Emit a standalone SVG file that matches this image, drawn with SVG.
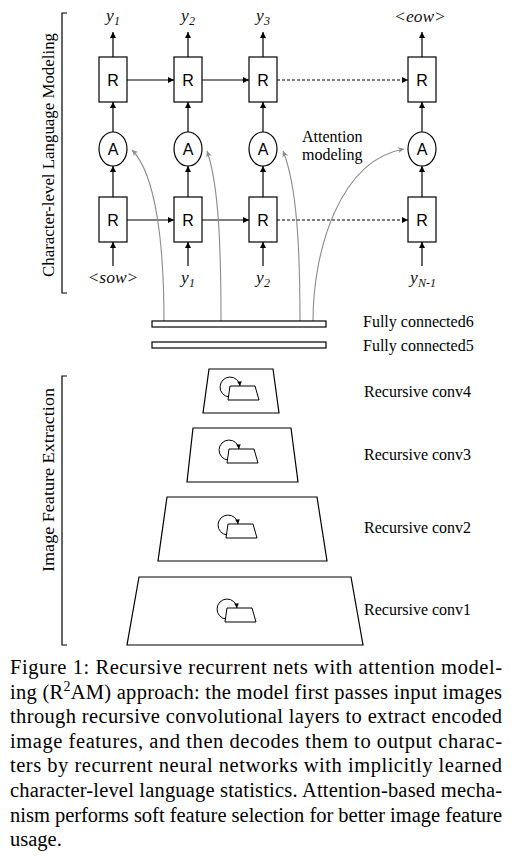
<svg xmlns="http://www.w3.org/2000/svg" width="515" height="857" viewBox="0 0 515 857">
<defs>
<style>
.box{fill:#fff;stroke:#000;stroke-width:1.2}
.ln{fill:none;stroke:#000;stroke-width:1.2}
.dash{fill:none;stroke:#000;stroke-width:1.2;stroke-dasharray:3,2}
.gray{fill:none;stroke:#8c8c8c;stroke-width:1.1}
.sans{font-family:"Liberation Sans",Arial,sans-serif;font-size:16px;fill:#000}
.it{font-family:"Liberation Serif","Times New Roman",serif;font-style:italic;font-size:17.5px;fill:#111}
.sub{font-size:12px}
.lbl{font-family:"Liberation Serif","Times New Roman",serif;font-size:16px;fill:#000}
.cap{font-family:"Liberation Serif","Times New Roman",serif;font-size:20.5px;fill:#000}
.side{font-family:"Liberation Serif","Times New Roman",serif;font-size:17px;fill:#000}
</style>
<marker id="ah" viewBox="0 0 10 10" refX="10" refY="5" markerUnits="userSpaceOnUse" markerWidth="7" markerHeight="6" orient="auto">
<path d="M0,0 L10,5 L0,10 z" fill="#000"/>
</marker>
<marker id="ahs" viewBox="0 0 10 10" refX="10" refY="5" markerUnits="userSpaceOnUse" markerWidth="5" markerHeight="4.5" orient="auto">
<path d="M0,0 L10,5 L0,10 z" fill="#000"/>
</marker>
<marker id="ag" viewBox="0 0 10 10" refX="10" refY="5" markerUnits="userSpaceOnUse" markerWidth="8" markerHeight="6" orient="auto">
<path d="M0,0 L10,5 L0,10 L3,5 z" fill="#8c8c8c"/>
</marker>
<g id="rec">
<path class="ln" d="M0,0 H25 L29,14 H-2 Z" style="stroke-width:1"/>
<path class="ln" d="M-1,11 A10,10 0 1 1 10,0" style="stroke-width:1" marker-end="url(#ahs)"/>
</g>
</defs>
<rect width="515" height="857" fill="#fff"/>

<g id="bracket-lang">
<path class="ln" d="M67,13 H62 V293 H67"/>
<text class="side" transform="translate(54,155) rotate(-90)" text-anchor="middle" textLength="244" lengthAdjust="spacingAndGlyphs">Character-level Language Modeling</text>
</g>
<g id="bracket-img">
<path class="ln" d="M67,376 H62 V645 H67"/>
<text class="side" transform="translate(54,480) rotate(-90)" text-anchor="middle" textLength="184" lengthAdjust="spacingAndGlyphs">Image Feature Extraction</text>
</g>

<g id="connectors">
<line class="ln" x1="113" y1="57" x2="113" y2="32" marker-end="url(#ah)"/>
<line class="ln" x1="188" y1="57" x2="188" y2="32" marker-end="url(#ah)"/>
<line class="ln" x1="263" y1="57" x2="263" y2="32" marker-end="url(#ah)"/>
<line class="ln" x1="422" y1="57" x2="422" y2="32" marker-end="url(#ah)"/>
<line class="ln" x1="127" y1="80" x2="174" y2="80" marker-end="url(#ah)"/>
<line class="ln" x1="202" y1="80" x2="249" y2="80" marker-end="url(#ah)"/>
<line class="dash" x1="277" y1="80" x2="408" y2="80" marker-end="url(#ah)"/>
<line class="ln" x1="113" y1="132" x2="113" y2="102" marker-end="url(#ah)"/>
<line class="ln" x1="188" y1="132" x2="188" y2="102" marker-end="url(#ah)"/>
<line class="ln" x1="263" y1="132" x2="263" y2="102" marker-end="url(#ah)"/>
<line class="ln" x1="422" y1="132" x2="422" y2="102" marker-end="url(#ah)"/>
<line class="ln" x1="113" y1="197" x2="113" y2="166" marker-end="url(#ah)"/>
<line class="ln" x1="188" y1="197" x2="188" y2="166" marker-end="url(#ah)"/>
<line class="ln" x1="263" y1="197" x2="263" y2="166" marker-end="url(#ah)"/>
<line class="ln" x1="422" y1="197" x2="422" y2="166" marker-end="url(#ah)"/>
<line class="ln" x1="127" y1="220" x2="174" y2="220" marker-end="url(#ah)"/>
<line class="ln" x1="202" y1="220" x2="249" y2="220" marker-end="url(#ah)"/>
<line class="dash" x1="277" y1="220" x2="408" y2="220" marker-end="url(#ah)"/>
<line class="ln" x1="113" y1="266" x2="113" y2="242" marker-end="url(#ah)"/>
<line class="ln" x1="188" y1="266" x2="188" y2="242" marker-end="url(#ah)"/>
<line class="ln" x1="263" y1="266" x2="263" y2="242" marker-end="url(#ah)"/>
<line class="ln" x1="422" y1="266" x2="422" y2="242" marker-end="url(#ah)"/>
<path class="gray" d="M164,321 C164,250 157,175 132,150" marker-end="url(#ag)"/>
<path class="gray" d="M221,321 C221,250 219,185 207,151" marker-end="url(#ag)"/>
<path class="gray" d="M300,321 C300,250 297,185 283,151" marker-end="url(#ag)"/>
<path class="gray" d="M313,321 C313,250 340,160 404,149" marker-end="url(#ag)"/>
</g>

<g id="R1top"><rect class="box" x="99" y="57" width="28" height="45"/><text class="sans" x="113" y="85.5" text-anchor="middle">R</text></g>
<g id="R2top"><rect class="box" x="174" y="57" width="28" height="45"/><text class="sans" x="188" y="85.5" text-anchor="middle">R</text></g>
<g id="R3top"><rect class="box" x="249" y="57" width="28" height="45"/><text class="sans" x="263" y="85.5" text-anchor="middle">R</text></g>
<g id="R4top"><rect class="box" x="408" y="57" width="28" height="45"/><text class="sans" x="422" y="85.5" text-anchor="middle">R</text></g>

<g id="A1"><ellipse class="box" cx="113" cy="149" rx="14" ry="17"/><text class="sans" x="113" y="154.5" text-anchor="middle">A</text></g>
<g id="A2"><ellipse class="box" cx="188" cy="149" rx="14" ry="17"/><text class="sans" x="188" y="154.5" text-anchor="middle">A</text></g>
<g id="A3"><ellipse class="box" cx="263" cy="149" rx="14" ry="17"/><text class="sans" x="263" y="154.5" text-anchor="middle">A</text></g>
<g id="A4"><ellipse class="box" cx="422" cy="149" rx="14" ry="17"/><text class="sans" x="422" y="154.5" text-anchor="middle">A</text></g>

<g id="R1bot"><rect class="box" x="99" y="197" width="28" height="45"/><text class="sans" x="113" y="225.5" text-anchor="middle">R</text></g>
<g id="R2bot"><rect class="box" x="174" y="197" width="28" height="45"/><text class="sans" x="188" y="225.5" text-anchor="middle">R</text></g>
<g id="R3bot"><rect class="box" x="249" y="197" width="28" height="45"/><text class="sans" x="263" y="225.5" text-anchor="middle">R</text></g>
<g id="R4bot"><rect class="box" x="408" y="197" width="28" height="45"/><text class="sans" x="422" y="225.5" text-anchor="middle">R</text></g>

<g id="outputs">
<text class="it" x="113" y="21" text-anchor="middle">y<tspan class="sub" dy="4">1</tspan></text>
<text class="it" x="188" y="21" text-anchor="middle">y<tspan class="sub" dy="4">2</tspan></text>
<text class="it" x="263" y="21" text-anchor="middle">y<tspan class="sub" dy="4">3</tspan></text>
<text class="it" x="420" y="22" text-anchor="middle">&lt;eow&gt;</text>
</g>
<g id="inputs">
<text class="it" x="113" y="283" text-anchor="middle">&lt;sow&gt;</text>
<text class="it" x="188" y="283" text-anchor="middle">y<tspan class="sub" dy="4">1</tspan></text>
<text class="it" x="263" y="283" text-anchor="middle">y<tspan class="sub" dy="4">2</tspan></text>
<text class="it" x="423" y="283" text-anchor="middle">y<tspan class="sub" dy="4">N-1</tspan></text>
</g>

<g id="attention-label">
<text class="lbl" x="302" y="142">Attention</text>
<text class="lbl" x="302" y="160">modeling</text>
</g>

<g id="fc6"><rect class="box" x="152" y="321" width="174" height="6"/><text class="lbl" x="363" y="327">Fully connected6</text></g>
<g id="fc5"><rect class="box" x="152" y="342" width="174" height="6"/><text class="lbl" x="363" y="351">Fully connected5</text></g>

<g id="conv4">
<path class="ln" d="M209,369 H273 L279,413 H203 Z"/>
<use href="#rec" transform="translate(230,386)"/>
<text class="lbl" x="364" y="397">Recursive conv4</text>
</g>
<g id="conv3">
<path class="ln" d="M193,428 H291 L298,482 H187 Z"/>
<use href="#rec" transform="translate(229,449)"/>
<text class="lbl" x="364" y="460">Recursive conv3</text>
</g>
<g id="conv2">
<path class="ln" d="M167,497 H317 L327,561 H158 Z"/>
<use href="#rec" transform="translate(228,524)"/>
<text class="lbl" x="364" y="533">Recursive conv2</text>
</g>
<g id="conv1">
<path class="ln" d="M139,577 H351 L363,645 H127 Z"/>
<use href="#rec" transform="translate(227,608)"/>
<text class="lbl" x="364" y="615">Recursive conv1</text>
</g>

<g id="caption">
<text class="cap" x="10" y="674" textLength="492" lengthAdjust="spacing">Figure 1: Recursive recurrent nets with attention model-</text>
<text class="cap" x="10" y="698.6" textLength="492" lengthAdjust="spacing">ing (R<tspan font-size="14" dy="-8">2</tspan><tspan dy="8">AM) approach: the model first passes input images</tspan></text>
<text class="cap" x="10" y="723.2" textLength="492" lengthAdjust="spacing">through recursive convolutional layers to extract encoded</text>
<text class="cap" x="10" y="747.8" textLength="492" lengthAdjust="spacing">image features, and then decodes them to output charac-</text>
<text class="cap" x="10" y="772.4" textLength="492" lengthAdjust="spacing">ters by recurrent neural networks with implicitly learned</text>
<text class="cap" x="10" y="797" textLength="492" lengthAdjust="spacing">character-level language statistics. Attention-based mecha-</text>
<text class="cap" x="10" y="821.6" textLength="492" lengthAdjust="spacing">nism performs soft feature selection for better image feature</text>
<text class="cap" x="10" y="846.2">usage.</text>
</g>
</svg>
